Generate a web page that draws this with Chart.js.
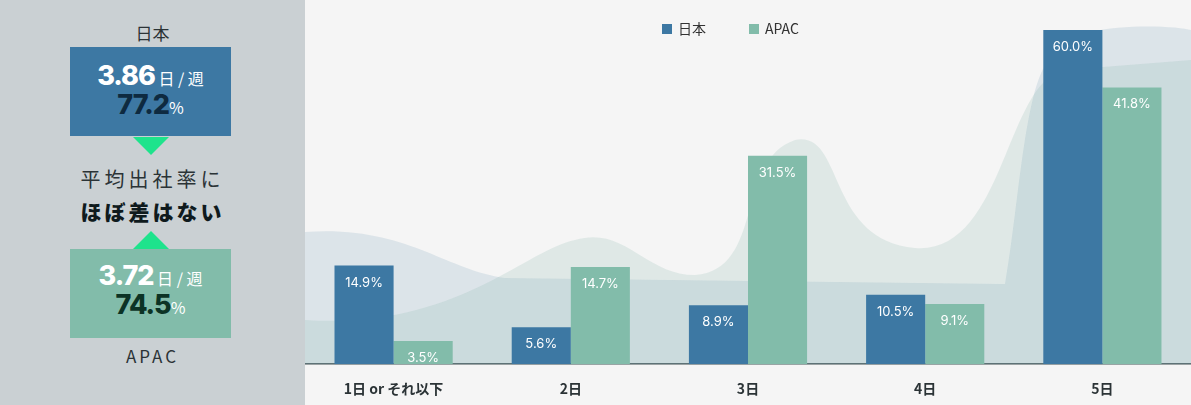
<!DOCTYPE html>
<html>
<head>
<meta charset="utf-8">
<script src="https://cdn.jsdelivr.net/npm/chart.js@4"></script>
<style>
  body { margin: 0; width: 1191px; height: 405px; overflow: hidden; font-family: "Noto Sans CJK JP", "Noto Sans", sans-serif; }
  #left { position: absolute; left: 0; top: 0; width: 305px; height: 405px; background: #cad0d3; color: #2b3336; }
  .lbl { position: absolute; left: 0; width: 305px; text-align: center; }
  .box { position: absolute; left: 70px; width: 161px; height: 89px; text-align: center; }
  .big { font-family: Inter, "Noto Sans", sans-serif; font-weight: 800; font-size: 27px; letter-spacing: -1px; }
  .unit { font-size: 16px; font-weight: 400; }
  .tri { position: absolute; left: 133px; width: 0; height: 0; border-left: 18px solid transparent; border-right: 18px solid transparent; }
  #right { position: absolute; left: 305px; top: 0; width: 886px; height: 405px; background: #f5f5f5; }
</style>
</head>
<body>
<div id="left">
  <div class="lbl" style="top:20px;font-size:17px;">日本</div>
  <div class="box" style="top:47px;background:#3d78a3;">
    <div style="margin-top:12px;color:#fff;"><span class="big">3.86</span> <span class="unit">日 / 週</span></div>
    <div style="margin-top:-4px;color:#0e2a40;"><span class="big">77.2</span><span class="unit" style="color:#fff">%</span></div>
  </div>
  <div class="tri" style="top:137px;border-top:18px solid #1ee38c;"></div>
  <div class="lbl" style="top:164px;font-size:20px;letter-spacing:4px;">平均出社率に</div>
  <div class="lbl" style="top:196px;font-size:21px;font-weight:900;letter-spacing:3px;color:#0f1a1d;">ほぼ差はない</div>
  <div class="tri" style="top:231px;border-bottom:18px solid #1ee38c;"></div>
  <div class="box" style="top:249px;background:#82bcaa;">
    <div style="margin-top:10px;color:#fff;"><span class="big">3.72</span> <span class="unit">日 / 週</span></div>
    <div style="margin-top:-4px;color:#0c3325;"><span class="big">74.5</span><span class="unit" style="color:#fff">%</span></div>
  </div>
  <div class="lbl" style="top:343px;font-size:17px;letter-spacing:3px;">APAC</div>
</div>
<div id="right"><canvas id="c" width="886" height="405"></canvas></div>
<script>
const categories = ['1日 or それ以下', '2日', '3日', '4日', '5日'];
const japanValues = [14.9, 5.6, 8.9, 10.5, 60.0];
const apacValues = [3.5, 14.7, 31.5, 9.1, 41.8];
const seriesNames = ['日本', 'APAC'];
const seriesColors = ['#3d78a3', '#82bcaa'];

// 背景の装飾ブロブ
const blobs = {
  id: 'blobs',
  beforeDatasetsDraw(chart) {
    const c = chart.ctx;
    const bottom = chart.chartArea.bottom;
    c.save();
    c.fillStyle = 'rgba(130,170,190,0.22)';
    c.beginPath();
    c.moveTo(0, 232);
    c.bezierCurveTo(100, 225, 140, 270, 200, 278);
    c.lineTo(700, 284);
    c.bezierCurveTo(715, 200, 720, 70, 750, 55);
    c.bezierCurveTo(760, 20, 870, 25, 886, 30);
    c.lineTo(886, bottom); c.lineTo(0, bottom); c.closePath(); c.fill();
    c.fillStyle = 'rgba(130,180,165,0.18)';
    c.beginPath();
    c.moveTo(0, 320);
    c.bezierCurveTo(150, 330, 220, 250, 270, 240);
    c.bezierCurveTo(320, 225, 340, 275, 390, 275);
    c.bezierCurveTo(460, 270, 430, 160, 490, 140);
    c.bezierCurveTo(540, 130, 520, 240, 610, 248);
    c.bezierCurveTo(700, 255, 700, 80, 760, 70);
    c.lineTo(886, 60);
    c.lineTo(886, bottom); c.lineTo(0, bottom); c.closePath(); c.fill();
    c.restore();
  }
};

// 棒内ラベルと凡例
const labelsPlugin = {
  id: 'labelsPlugin',
  afterDatasetsDraw(chart) {
    const c = chart.ctx;
    const top = chart.chartArea.top;
    c.save();
    c.font = '13px Inter, "Noto Sans", sans-serif';
    c.fillStyle = '#fff';
    c.textAlign = 'center';
    c.textBaseline = 'middle';
    chart.data.datasets.forEach((ds, i) => {
      chart.getDatasetMeta(i).data.forEach((bar, j) => {
        c.fillText(ds.data[j].toFixed(1) + '%', bar.x, Math.max(bar.y, top) + 17);
      });
    });
    c.font = '14px "Noto Sans CJK JP", sans-serif';
    c.textAlign = 'left';
    const lx = [357, 444];
    seriesNames.forEach((n, i) => {
      c.fillStyle = seriesColors[i];
      c.fillRect(lx[i], 24, 10, 10);
      c.fillStyle = '#333';
      c.fillText(n, lx[i] + 16, 29);
    });
    c.restore();
  }
};

new Chart(document.getElementById('c'), {
  type: 'bar',
  data: {
    labels: categories,
    datasets: [
      { label: seriesNames[0], data: japanValues, backgroundColor: seriesColors[0] },
      { label: seriesNames[1], data: apacValues, backgroundColor: seriesColors[1] }
    ]
  },
  options: {
    responsive: false,
    animation: false,
    layout: { padding: { top: 30, left: 0, right: 0, bottom: 0 } },
    datasets: { bar: { barPercentage: 1, categoryPercentage: 0.667 } },
    scales: {
      x: {
        grid: { display: false },
        border: { color: '#4a5255', width: 1.5 },
        ticks: { color: '#2b3336', font: { size: 14, weight: 'bold', family: '"Noto Sans CJK JP", sans-serif' }, padding: 8 }
      },
      y: { display: false, min: 0, max: 50.5 }
    },
    plugins: { legend: { display: false }, tooltip: { enabled: false } }
  },
  plugins: [blobs, labelsPlugin]
});
</script>
</body>
</html>
